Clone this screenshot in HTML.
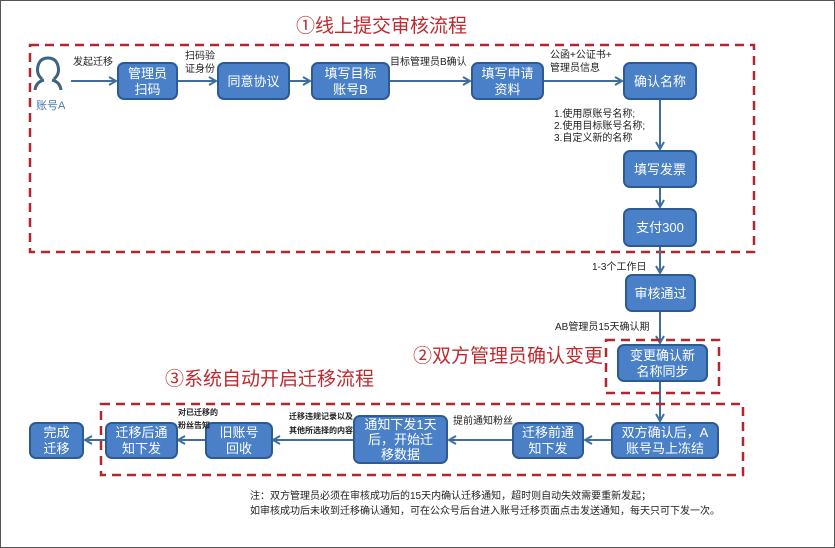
<!DOCTYPE html>
<html><head><meta charset="utf-8"><style>
html,body{margin:0;padding:0;background:#fff}
svg{display:block}
text{font-family:"Liberation Sans","Noto Sans CJK SC",sans-serif}
.b{fill:#4a80c8;stroke:#2e5a94;stroke-width:2}
.bt{fill:#fff;font-size:13px;text-anchor:middle}
.l{font-size:10px;fill:#222}
.s{font-size:8px;fill:#222;font-weight:bold}
.d{fill:none;stroke:#b0282e;stroke-width:2.5;stroke-dasharray:9 6}
.a{stroke:#3f6e9e;stroke-width:2;fill:none;marker-end:url(#m)}
.t{fill:#c0282e;font-size:19px}
</style></head><body>
<svg width="835" height="548" viewBox="0 0 835 548">
<defs><marker id="m" markerWidth="10" markerHeight="10" refX="8" refY="5" orient="auto" markerUnits="userSpaceOnUse"><path d="M1,1 L8,5 L1,9" fill="none" stroke="#3f6e9e" stroke-width="2"/></marker></defs>
<rect x="0.5" y="0.5" width="834" height="547" fill="none" stroke="#555"/>
<text class="t" x="296" y="32">①线上提交审核流程</text>
<rect class="d" x="30" y="45" width="724" height="207"/>
<!-- person -->
<g stroke="#3f6480" stroke-width="3" fill="none"><path d="M42,79 Q36,74 38,66 Q40,58 48,58 Q56,58 58,66 Q60,74 54,79"/><path d="M35,90 Q36,82 44,80 M61,90 Q60,82 52,80"/></g>
<text x="36" y="109" style="font-size:11px;fill:#4a7ab0">账号A</text>
<text class="l" x="73" y="65">发起迁移</text>
<text class="l" x="185" y="59">扫码验</text><text class="l" x="185" y="72">证身份</text>
<text class="l" x="390" y="65">目标管理员B确认</text>
<text class="l" x="550" y="58">公函+公证书+</text><text class="l" x="550" y="71">管理员信息</text>
<text class="l" x="554" y="117">1.使用原账号名称;</text>
<text class="l" x="554" y="129">2.使用目标账号名称;</text>
<text class="l" x="554" y="141">3.自定义新的名称</text>
<line class="a" x1="71" y1="81" x2="116" y2="81"/>
<line class="a" x1="178" y1="81" x2="216" y2="81"/>
<line class="a" x1="290" y1="81" x2="310" y2="81"/>
<line class="a" x1="390" y1="81" x2="470" y2="81"/>
<line class="a" x1="544" y1="81" x2="622" y2="81"/>
<line class="a" x1="660" y1="100" x2="660" y2="149"/>
<line class="a" x1="660" y1="188" x2="660" y2="207"/>
<line class="a" x1="660" y1="247" x2="660" y2="273"/>
<line class="a" x1="660" y1="312" x2="660" y2="343"/>
<line class="a" x1="660" y1="382" x2="660" y2="421"/>
<rect class="b" x="118" y="63" width="59" height="36" rx="6"/><text class="bt" x="147.5" y="78">管理员</text><text class="bt" x="147.5" y="94">扫码</text>
<rect class="b" x="218" y="63" width="71" height="36" rx="6"/><text class="bt" x="253.5" y="86">同意协议</text>
<rect class="b" x="312" y="63" width="77" height="36" rx="6"/><text class="bt" x="350.5" y="78">填写目标</text><text class="bt" x="350.5" y="94">账号B</text>
<rect class="b" x="472" y="63" width="71" height="36" rx="6"/><text class="bt" x="507.5" y="78">填写申请</text><text class="bt" x="507.5" y="94">资料</text>
<rect class="b" x="624" y="63" width="72" height="36" rx="6"/><text class="bt" x="660" y="86">确认名称</text>
<rect class="b" x="624" y="151" width="72" height="36" rx="6"/><text class="bt" x="660" y="174">填写发票</text>
<rect class="b" x="624" y="209" width="72" height="37" rx="6"/><text class="bt" x="660" y="232">支付300</text>
<text class="l" x="592" y="270">1-3个工作日</text>
<rect class="b" x="626" y="275" width="69" height="36" rx="6"/><text class="bt" x="660.5" y="298">审核通过</text>
<text class="l" x="555" y="330">AB管理员15天确认期</text>
<rect class="d" x="606" y="340" width="113" height="53"/>
<text class="t" x="413" y="362">②双方管理员确认变更</text>
<rect class="b" x="618" y="345" width="89" height="36" rx="6"/><text class="bt" x="662.5" y="360">变更确认新</text><text class="bt" x="662.5" y="376">名称同步</text>
<text class="t" x="165" y="385">③系统自动开启迁移流程</text>
<rect class="d" x="101" y="404" width="642" height="71"/>
<line class="a" x1="612" y1="440" x2="585" y2="440"/>
<line class="a" x1="512" y1="440" x2="449" y2="440"/>
<line class="a" x1="353" y1="440" x2="273" y2="440"/>
<line class="a" x1="206" y1="440" x2="178" y2="440"/>
<line class="a" x1="105" y1="440" x2="85" y2="440"/>
<rect class="b" x="612" y="423" width="106" height="35" rx="6"/><text class="bt" x="665" y="437">双方确认后，A</text><text class="bt" x="665" y="453">账号马上冻结</text>
<rect class="b" x="513" y="423" width="70" height="35" rx="6"/><text class="bt" x="548" y="437">迁移前通</text><text class="bt" x="548" y="453">知下发</text>
<rect class="b" x="354" y="416" width="93" height="47" rx="6"/><text class="bt" x="400.5" y="429">通知下发1天</text><text class="bt" x="400.5" y="444">后，开始迁</text><text class="bt" x="400.5" y="459">移数据</text>
<rect class="b" x="206" y="423" width="66" height="35" rx="6"/><text class="bt" x="239" y="437">旧账号</text><text class="bt" x="239" y="453">回收</text>
<rect class="b" x="106" y="423" width="71" height="35" rx="6"/><text class="bt" x="141.5" y="437">迁移后通</text><text class="bt" x="141.5" y="453">知下发</text>
<rect class="b" x="30" y="423" width="53" height="35" rx="6"/><text class="bt" x="56.5" y="437">完成</text><text class="bt" x="56.5" y="453">迁移</text>
<text class="l" x="453" y="424">提前通知粉丝</text>
<text class="s" x="289" y="419">迁移违规记录以及</text><text class="s" x="289" y="433">其他所选择的内容</text>
<text class="s" x="178" y="415">对已迁移的</text><text class="s" x="178" y="428">粉丝告知</text>
<text x="250" y="499" style="font-size:10px;fill:#222">注：双方管理员必须在审核成功后的15天内确认迁移通知，超时则自动失效需要重新发起；</text>
<text x="250" y="514" style="font-size:10px;fill:#222">如审核成功后未收到迁移确认通知，可在公众号后台进入账号迁移页面点击发送通知，每天只可下发一次。</text>
</svg>
</body></html>
